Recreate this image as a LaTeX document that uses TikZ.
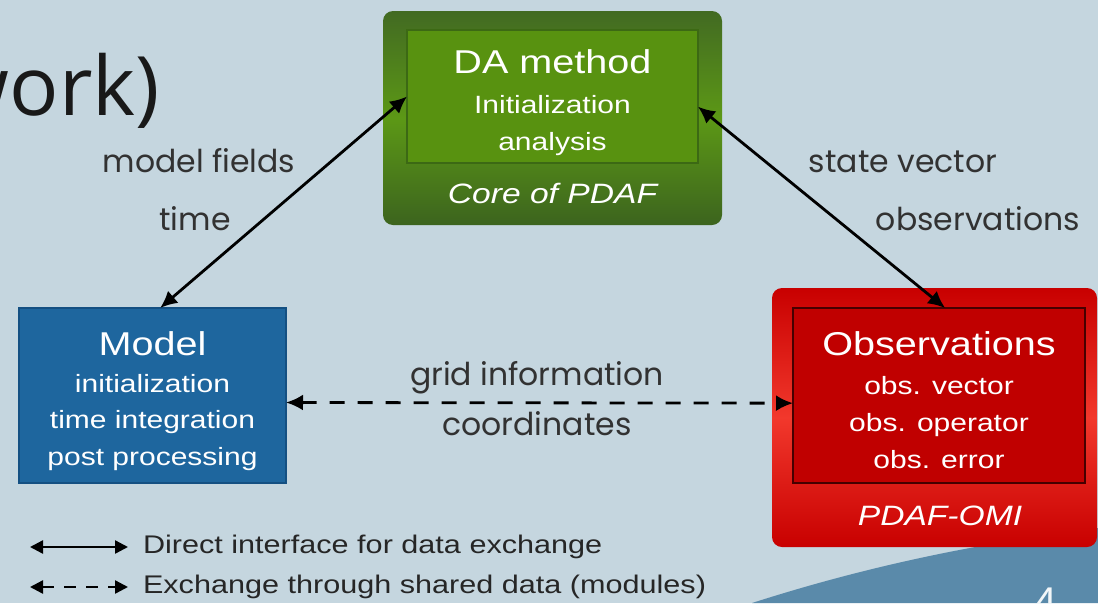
\documentclass[tikz,border=0pt]{standalone}
\usepackage{fontspec}
\setmainfont{Liberation Sans}[FakeStretch=1.2]
\newfontfamily\labelfont{Poppins}
\newfontfamily\slidefont{Open Sans}
\definecolor{bg}{RGB}{197,214,223}
\definecolor{slideblue}{RGB}{90,138,170}
\definecolor{greendark}{RGB}{66,106,34}
\definecolor{greenbottom}{RGB}{60,100,30}
\definecolor{greenmid}{RGB}{92,152,22}
\definecolor{greeninner}{RGB}{88,146,16}
\definecolor{greenline}{RGB}{60,105,20}
\definecolor{modelblue}{RGB}{30,102,158}
\definecolor{modelline}{RGB}{20,80,130}
\definecolor{reddark}{RGB}{200,0,0}
\definecolor{redlight}{RGB}{242,56,44}
\definecolor{redinner}{RGB}{192,0,0}
\definecolor{redline}{RGB}{70,0,0}
\definecolor{labelgrey}{RGB}{50,50,50}
\usetikzlibrary{arrows.meta}
\usetikzlibrary{positioning}
\tikzstyle{base}=[inner sep=0pt, outer sep=0pt]
\tikzstyle{outerbox}=[rounded corners=10pt]
\tikzstyle{innerbox}=[line width=1.2pt]
\tikzstyle{headtext}=[anchor=base, white, font=\fontsize{33}{38}\selectfont]
\tikzstyle{subtext}=[anchor=base, white, font=\fontsize{25}{30}\selectfont]
\tikzstyle{foottext}=[anchor=base, white, font=\fontsize{28}{32}\selectfont\itshape]
\tikzstyle{linklabel}=[anchor=base, labelgrey, font=\labelfont\fontsize{31.5}{34}\selectfont]
\tikzstyle{link}=[line width=2.8pt, {Latex[length=17pt,width=16pt]}-{Latex[length=17pt,width=16pt]}]
\tikzstyle{shared}=[dash pattern=on 15pt off 13pt]
\tikzstyle{legendlink}=[line width=2.4pt, {Triangle[length=13pt,width=13pt]}-{Triangle[length=13pt,width=13pt]}]
\tikzstyle{legendtext}=[anchor=west, black!85, font=\fontsize{25.5}{30}\selectfont]

\begin{document}
\begin{tikzpicture}[base, x=1pt, y=-1pt]
    \useasboundingbox (0,0) rectangle (1098,603);
    \clip (0,0) rectangle (1098,603);
    \fill [bg] (0,0) rectangle (1098,603);
    \fill [slideblue] (752,603) .. controls (880,562) and (990,542) .. (1098,528) -- (1098,603) -- cycle;
    \node [anchor=base east, black!90, font=\slidefont\fontsize{82}{90}\selectfont] (title) at (160,115) {work)};
    \node [anchor=north, white!92!slideblue, font=\slidefont\fontsize{44}{50}\selectfont] (pagenum) at (1045,588) {4};

    % DA method
    \node [outerbox, top color=greendark, bottom color=greenbottom, middle color=greenmid, minimum width=339, minimum height=214] (dabox) at (552.5,118) {};
    \node [innerbox, fill=greeninner, draw=greenline, minimum width=291, minimum height=133] (dainner) at (552.5,96.5) {};
    \node [headtext] (datitle) at (552.5,73) {DA method};
    \node [subtext] (dainit) at (552.5,113) {Initialization};
    \node [subtext] (daanalysis) at (552.5,150) {analysis};
    \node [foottext] (dafoot) at (552.5,203) {Core of PDAF};

    % Model
    \node [innerbox, fill=modelblue, draw=modelline, minimum width=267, minimum height=175] (modelbox) at (152.5,395.5) {};
    \node [headtext] (modeltitle) at (152.5,355) {Model};
    \node [subtext] (modelinit) at (152.5,392) {initialization};
    \node [subtext] (modeltime) at (152.5,428) {time integration};
    \node [subtext] (modelpost) at (152.5,465) {post processing};

    % Observations
    \node [outerbox, top color=reddark, bottom color=reddark, middle color=redlight, minimum width=325, minimum height=259] (obsbox) at (934.5,417.5) {};
    \node [innerbox, fill=redinner, draw=redline, minimum width=292, minimum height=175] (obsinner) at (939,395.5) {};
    \node [headtext] (obstitle) at (939,355) {Observations};
    \node [subtext] (obsvector) at (939,394) {obs. vector};
    \node [subtext] (obsoperator) at (939,431) {obs. operator};
    \node [subtext] (obserror) at (939,468) {obs. error};
    \node [foottext] (obsfoot) at (940,525) {PDAF-OMI};

    % connections
    \draw [link] (modelbox.85) -- (dainner.west);
    \draw [link] (dainner.-4) -- (obsinner.86);
    \draw [link, shared] (modelbox.-3) -- (obsinner.183);
    \node [linklabel] (lblfields) at (199,172) {model fields};
    \node [linklabel] (lbltime) at (195,230) {time};
    \node [linklabel] (lblstate) at (903,172) {state vector};
    \node [linklabel] (lblobs) at (978,230) {observations};
    \node [linklabel] (lblgrid) at (537,385) {grid information};
    \node [linklabel] (lblcoord) at (537,435) {coordinates};

    % legend
    \coordinate (solidstart) at (30,547);
    \coordinate (solidend) at (128,547);
    \coordinate (dashstart) at (30,587);
    \coordinate (dashend) at (128,587);
    \draw [legendlink] (solidstart) -- (solidend);
    \draw [legendlink, dash pattern=on 12pt off 10pt] (dashstart) -- (dashend);
    \node [legendtext, right=15pt of solidend] (solidtext) {Direct interface for data exchange};
    \node [legendtext, right=15pt of dashend] (dashtext) {Exchange through shared data (modules)};
\end{tikzpicture}
\end{document}
